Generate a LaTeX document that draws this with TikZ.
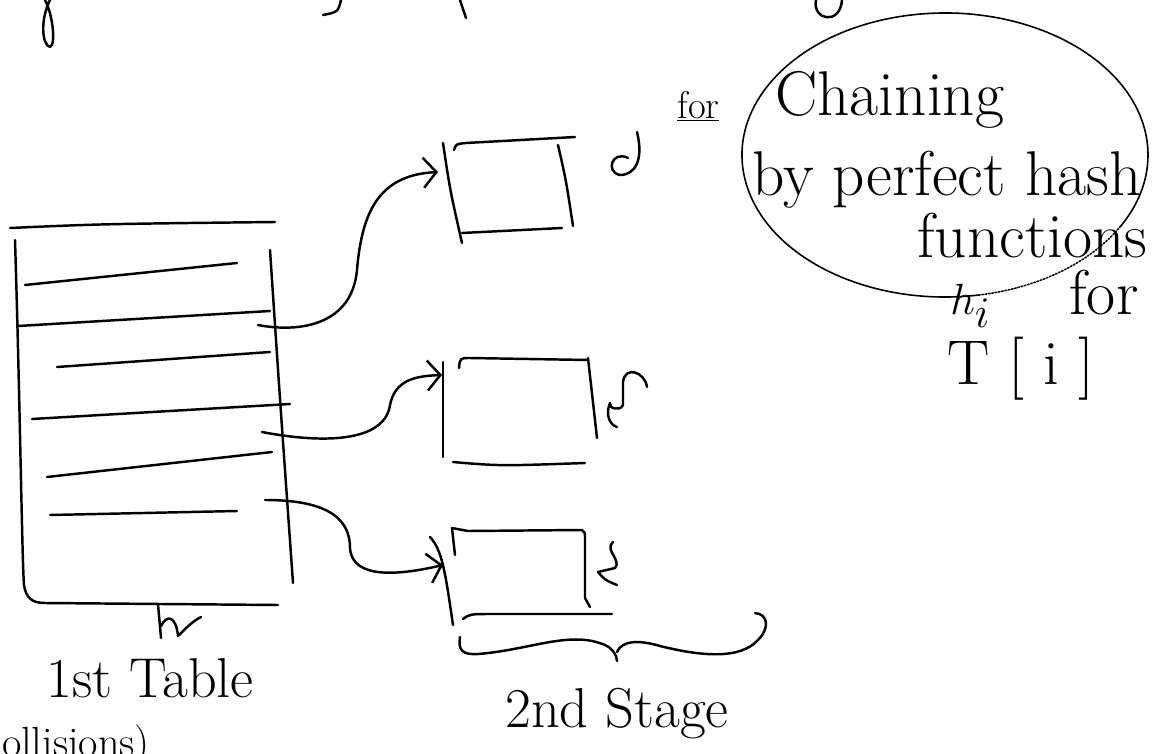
\documentclass[tikz,border=0pt]{standalone}
\usepackage{fontspec}
\usetikzlibrary{arrows.meta}
\tikzset{
  pen/.style={line width=1.4pt, line cap=round, line join=round},
  thinpen/.style={line width=0.9pt, line cap=round},
  link/.style={pen, -{Straight Barb[length=0.26cm, width=0.6cm, line width=1.4pt]}},
  hand/.style={font=\fontsize{32}{38}\selectfont, inner sep=0pt},
  bighand/.style={font=\fontsize{36}{42}\selectfont, inner sep=0pt},
}

\begin{document}
\begin{tikzpicture}[x=0.02cm, y=-0.02cm]
  \useasboundingbox (0,0) rectangle (1164,754);

  %%% cut-off line at the top
  \draw[pen] (50,0) .. controls (40,20) and (42,45) .. (50,47) .. controls (56,45) and (53,15) .. (45,0);
  \draw[pen] (341,0) .. controls (338,12) .. (323,15);
  \draw[pen] (460,0) -- (466,18);
  \draw[pen] (816,0) .. controls (812,20) and (840,26) .. (842,0);

  %%% 1st table
  \draw[pen] (10,228) .. controls (100,224) .. (275,222);
  \draw[pen] (15,240) .. controls (20,400) and (22,560) .. (24,585)
             .. controls (26,598) and (32,603) .. (45,603) -- (278,605);
  \draw[pen] (270,250) .. controls (280,400) .. (293,583);
  \foreach \xa/\ya/\xb/\yb in {25/285/237/263, 18/326/270/311, 57/367/270/352,
                                32/419/290/404, 47/477/272/452, 50/515/237/511}
    \draw[pen] (\xa,\ya) -- (\xb,\yb);
  \draw[pen] (158,604) -- (161,638);
  \draw[pen] (161,626) .. controls (167,614) and (176,616) .. (178,636)
             .. controls (186,628) and (193,621) .. (201,617);

  \coordinate (slot2) at (258,325);
  \coordinate (slot4) at (262,432);
  \coordinate (slot5) at (265,500);

  %%% 2nd stage tables
  \coordinate (in1) at (438,172);
  \coordinate (in2) at (442,375);
  \coordinate (in3) at (443,565);

  % box 1
  \draw[pen] (443,143) .. controls (450,190) .. (462,243);
  \draw[pen] (454,150) .. controls (456,144) .. (466,143) -- (575,137);
  \draw[pen] (558,145) .. controls (566,180) .. (573,226);
  \draw[pen] (462,233) -- (562,228);
  \draw[pen] (637,132) .. controls (644,160) and (635,175) .. (620,175)
             .. controls (605,172) and (612,150) .. (628,158);

  % box 2
  \draw[pen] (443,362) -- (443,457);
  \draw[pen] (459,368) .. controls (460,358) .. (470,358) -- (588,360);
  \draw[pen] (588,358) -- (597,438);
  \draw[pen] (453,462) .. controls (500,466) .. (585,463);
  \draw[pen] (647,387) .. controls (645,372) and (625,365) .. (623,382) -- (623,405)
             .. controls (620,412) and (608,408) .. (610,403)
             .. controls (605,415) and (610,425) .. (617,427);

  % box 3
  \draw[pen] (430,537) .. controls (442,550) and (445,570) .. (453,625);
  \draw[pen] (455,555) -- (452,528) -- (468,531) -- (582,530)
             .. controls (585,532) .. (585,540) -- (585,598) -- (590,607);
  \draw[pen] (463,619) .. controls (470,614) .. (493,614) -- (612,614);
  \draw[pen] (613,542) .. controls (604,550) and (622,560) .. (615,568) -- (598,572)
             .. controls (605,580) .. (617,585);

  % brace
  \draw[pen] (460,637) .. controls (458,650) and (462,655) .. (478,654)
             .. controls (530,650) and (570,630) .. (605,645)
             .. controls (612,648) and (617,655) .. (617,661);
  \draw[pen] (617,652) .. controls (622,640) and (640,640) .. (660,646)
             .. controls (700,656) and (740,660) .. (758,640)
             .. controls (770,628) and (768,614) .. (755,613);

  %%% links
  \draw[link] (slot2) .. controls (300,333) and (352,325) .. (357,270)
              .. controls (362,210) and (380,175) .. (in1);
  \draw[link] (slot4) .. controls (330,445) and (385,440) .. (390,405)
              .. controls (395,380) and (415,376) .. (in2);
  \draw[link] (slot5) .. controls (330,500) and (350,520) .. (350,548)
              .. controls (352,580) and (400,575) .. (in3);

  %%% note
  \draw[thinpen] (980.25,294.84) arc [start angle=80, end angle=390, x radius=203, y radius=142];
  \draw[thinpen, densely dotted] (1120.8,226) arc [start angle=30, end angle=80, x radius=203, y radius=142];
  \node[hand, font=\fontsize{22}{26}\selectfont, anchor=base west] (fornote) at (677,118) {\underline{for}};
  \node[bighand, anchor=base west] (chain) at (775,115) {Chaining};
  \node[bighand, anchor=base west] (perfect) at (752,195) {by perfect hash};
  \node[bighand, anchor=base west] (func) at (917,257) {functions};
  \node[bighand, anchor=base west] (hfor) at (950,314) {$h_i$\hspace{1.25em}for};
  \node[bighand, anchor=base west] (tab) at (947,384) {T\hspace{0.3em}[\hspace{0.3em}i\hspace{0.3em}]};

  %%% labels
  \node[hand, anchor=base] (first) at (150,697) {1st Table};
  \node[hand, anchor=base] (second) at (617,727) {2nd Stage};
  \node[hand, font=\fontsize{24}{28}\selectfont, anchor=base east] (coll) at (150,756) {(collisions)};
\end{tikzpicture}
\end{document}
